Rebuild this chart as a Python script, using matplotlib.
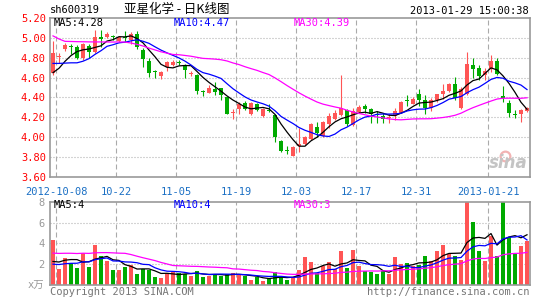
import matplotlib
matplotlib.use("Agg")
import matplotlib.pyplot as plt
import numpy as np
import pandas as pd

plt.rcParams['font.family'] = ['DejaVu Sans Mono', 'Noto Sans CJK SC']

# daily K data, 2012-09-28 .. 2013-01-29 (80 sessions)
opens = [4.65, 4.81, 4.89, 4.92, 4.91, 4.80, 4.92, 4.86, 5.01, 5.01,
         5.02, 4.97, 5.01, 4.98, 5.04, 4.88, 4.77, 4.67, 4.62, 4.71,
         4.73, 4.76, 4.73, 4.64, 4.63, 4.47, 4.45, 4.49, 4.50, 4.41,
         4.24, 4.28, 4.34, 4.23, 4.33, 4.21, 4.27, 4.22, 3.96, 3.87,
         3.81, 3.91, 3.93, 3.98, 4.10, 4.01, 4.13, 4.18, 4.22, 4.27,
         4.12, 4.25, 4.31, 4.28, 4.23, 4.21, 4.19, 4.21, 4.24, 4.37,
         4.33, 4.44, 4.37, 4.29, 4.37, 4.44, 4.47, 4.54, 4.29, 4.44,
         4.73, 4.70, 4.63, 4.69, 4.77, 4.42, 4.34, 4.23, 4.23, 4.26]
highs = [4.97, 4.85, 4.95, 4.94, 4.93, 4.95, 4.94, 5.08, 5.08, 5.06,
         5.03, 5.02, 5.07, 5.06, 5.07, 4.90, 4.80, 4.68, 4.67, 4.77,
         4.78, 4.78, 4.74, 4.67, 4.64, 4.48, 4.53, 4.56, 4.50, 4.41,
         4.28, 4.35, 4.36, 4.35, 4.34, 4.29, 4.33, 4.23, 3.97, 3.91,
         3.91, 4.09, 4.01, 4.14, 4.15, 4.16, 4.24, 4.27, 4.63, 4.28,
         4.29, 4.32, 4.33, 4.29, 4.26, 4.24, 4.23, 4.29, 4.36, 4.43,
         4.41, 4.49, 4.43, 4.39, 4.44, 4.54, 4.55, 4.61, 4.51, 4.86,
         4.80, 4.73, 4.70, 4.83, 4.80, 4.52, 4.37, 4.27, 4.28, 4.30]
lows = [4.63, 4.75, 4.87, 4.84, 4.79, 4.78, 4.80, 4.85, 4.91, 5.00,
        4.98, 4.96, 4.96, 4.94, 4.89, 4.71, 4.61, 4.60, 4.59, 4.67,
        4.72, 4.73, 4.60, 4.62, 4.44, 4.42, 4.45, 4.43, 4.37, 4.23,
        4.18, 4.23, 4.27, 4.22, 4.26, 4.20, 4.25, 3.95, 3.85, 3.83,
        3.81, 3.85, 3.92, 3.97, 4.00, 4.00, 4.09, 4.17, 4.21, 4.11,
        4.11, 4.24, 4.24, 4.14, 4.14, 4.14, 4.14, 4.17, 4.24, 4.31,
        4.33, 4.31, 4.23, 4.26, 4.35, 4.38, 4.46, 4.37, 4.28, 4.43,
        4.60, 4.58, 4.58, 4.66, 4.63, 4.35, 4.20, 4.19, 4.15, 4.25]
closes = [4.85, 4.82, 4.93, 4.91, 4.80, 4.94, 4.86, 5.01, 4.99, 5.04,
          5.01, 5.01, 5.00, 5.04, 4.91, 4.79, 4.65, 4.66, 4.66, 4.76,
          4.76, 4.75, 4.68, 4.65, 4.47, 4.46, 4.50, 4.46, 4.43, 4.23,
          4.25, 4.33, 4.28, 4.34, 4.27, 4.28, 4.26, 4.00, 3.86, 3.86,
          3.90, 3.93, 4.00, 4.13, 4.04, 4.15, 4.21, 4.24, 4.29, 4.13,
          4.26, 4.30, 4.28, 4.23, 4.22, 4.18, 4.20, 4.26, 4.35, 4.36,
          4.38, 4.37, 4.29, 4.37, 4.44, 4.47, 4.54, 4.39, 4.49, 4.74,
          4.69, 4.62, 4.67, 4.77, 4.64, 4.39, 4.24, 4.22, 4.27, 4.29]
# volume, x10^4 lots
volumes = [4.29, 1.55, 2.58, 2.10, 1.68, 3.06, 1.77, 3.81, 2.74, 2.35,
           1.45, 1.45, 1.77, 1.94, 1.06, 1.52, 1.45, 0.81, 0.71, 1.13,
           1.23, 1.13, 1.10, 0.90, 1.35, 0.81, 0.90, 1.10, 0.84, 1.06,
           1.16, 0.97, 0.87, 0.48, 0.74, 0.42, 0.58, 1.23, 0.81, 0.50,
           0.65, 1.45, 2.65, 2.23, 1.19, 1.84, 2.23, 1.55, 3.29, 1.68,
           3.39, 1.87, 1.35, 1.23, 1.10, 1.35, 1.10, 2.65, 2.00, 2.16,
           1.87, 1.94, 2.74, 2.32, 3.23, 3.87, 3.00, 2.81, 2.42, 8.30,
           6.03, 3.29, 2.35, 4.74, 2.74, 8.60, 4.65, 2.97, 3.71, 4.19]
# sessions before the window, only needed for the moving averages
prior_closes = [5.75, 5.65, 4.95, 4.85, 4.97, 4.90, 5.02, 5.00, 5.05, 5.02,
                5.00, 5.03, 5.32, 5.32, 5.28, 5.28, 5.22, 5.22, 5.17, 5.17,
                4.82, 4.90, 4.88, 4.80, 4.78, 4.60, 4.58, 4.62, 4.60]
prior_volumes = [2.3, 2.2, 2.1, 2.4, 2.2, 2.3, 2.1, 2.2, 2.3, 2.2,
                 2.3, 2.2, 5.5, 5.8, 6.0, 5.5, 5.0, 6.0, 5.5, 5.7,
                 1.9, 1.8, 1.7, 1.6, 1.7, 1.8, 1.7, 1.8, 1.7]

tick_index = [1, 11, 21, 31, 41, 51, 61, 73]
tick_labels = ['2012-10-08', '10-22', '11-05', '11-19', '12-03', '12-17',
               '12-31', '2013-01-21']
price_ticks = [3.60, 3.80, 4.00, 4.20, 4.40, 4.60, 4.80, 5.00, 5.20]
vol_ticks = [0, 2, 4, 6, 8]
vol_tick_labels = ['x万', '2', '4', '6', '8']
ma_periods = [5, 10, 30]
price_ma_labels = ['MA5:4.28', 'MA10:4.47', 'MA30:4.39']
vol_ma_labels = ['MA5:4', 'MA10:4', 'MA30:3']

RED, GREEN = '#ff5555', '#00aa00'
MA_COLORS = ['black', '#0000ff', '#ff00ff']
GRID = '#aaaaaa'
W, H = 545, 300

fig = plt.figure(figsize=(W / 100, H / 100), dpi=100)
fig.patch.set_facecolor('white')


def px_axes(x0, y0, x1, y1):
    return fig.add_axes([x0 / W, 1 - y1 / H, (x1 - x0) / W, (y1 - y0) / H])


def ftext(x, y, s, **kw):
    fig.text(x / W, 1 - y / H, s, **kw)


ax = px_axes(50, 18, 530, 177)
axv = px_axes(50, 201.7, 530, 285)

o = np.array(opens)
h = np.array(highs)
lo = np.array(lows)
c = np.array(closes)
v = np.array(volumes)
n = len(c)
x = np.arange(n)
colors = [RED if cc >= oo else GREEN for oo, cc in zip(o, c)]

full_c = pd.Series(prior_closes + closes)
full_v = pd.Series(prior_volumes + volumes)

# grid
vt = [i - 0.5 for i in tick_index]
for a in (ax, axv):
    for t in vt:
        a.axvline(t, color=GRID, lw=0.8, ls=(0, (4.5, 2.7)), zorder=0)
for p in price_ticks[1:-1]:
    ax.axhline(p, color=GRID, lw=0.8, ls=(0, (0.9, 1.8)), zorder=0)
for t in vol_ticks[1:-1]:
    axv.axhline(t, color=GRID, lw=0.8, ls=(0, (0.9, 1.8)), zorder=0)

# candles
body = np.maximum(np.abs(c - o), 0.007)
ax.vlines(x, lo, h, colors=colors, lw=0.8, zorder=2)
ax.bar(x, body, bottom=np.minimum(o, c), width=0.78, color=colors,
       linewidth=0, zorder=3)

# volume bars
axv.bar(x, v, width=0.82, color=colors, linewidth=0, zorder=2)

# moving averages
for per, col in zip(ma_periods, MA_COLORS):
    ax.plot(x, full_c.rolling(per).mean().values[-n:], color=col, lw=0.9, zorder=4)
    axv.plot(x, full_v.rolling(per).mean().values[-n:], color=col, lw=0.9, zorder=4)

ax.set_xlim(-0.5, n - 0.5)
axv.set_xlim(-0.5, n - 0.5)
ax.set_ylim(price_ticks[0], price_ticks[-1])
axv.set_ylim(vol_ticks[0], vol_ticks[-1])

ax.set_yticks(price_ticks)
ax.set_yticklabels(['%.2f' % p for p in price_ticks])
ax.tick_params(axis='y', length=0, pad=3, labelcolor='#ff0000', labelsize=7.5)
ax.set_xticks(vt)
ax.set_xticklabels(tick_labels)
ax.tick_params(axis='x', length=0, pad=7, labelcolor='#1a6fc4', labelsize=7.5)

axv.set_yticks(vol_ticks)
axv.set_yticklabels(vol_tick_labels)
axv.tick_params(axis='y', length=0, pad=4, labelcolor='#999999', labelsize=7.5)
axv.set_xticks(vt)
axv.set_xticklabels([])
axv.tick_params(axis='x', length=0)

for a in (ax, axv):
    for s in a.spines.values():
        s.set_color('#999999')
        s.set_linewidth(1.2)

# MA captions
for k, (lab, col) in enumerate(zip(price_ma_labels, MA_COLORS)):
    ftext(54 + 120 * k, 23.5, lab, color=col, fontsize=7.5, ha='left', va='center')
for k, (lab, col) in enumerate(zip(vol_ma_labels, MA_COLORS)):
    ftext(54 + 120 * k, 205.5, lab, color=col, fontsize=7.5, ha='left', va='center')

# header / footer
ftext(50, 10, 'sh600319', fontsize=7.5, ha='left', va='center')
ftext(177, 9.5, '亚星化学 - 日K线图', fontsize=9, ha='center', va='center',
      family=['Noto Sans CJK SC', 'DejaVu Sans'])
ftext(529, 11, '2013-01-29 15:00:38', fontsize=7.5, ha='right', va='center')
ftext(50, 292, 'Copyright 2013 SINA.COM', fontsize=7.5, color='#777777',
      ha='left', va='center')
ftext(529, 292, 'http://finance.sina.com.cn', fontsize=7.5, color='#777777',
      ha='right', va='center')

# watermark
ax.plot([0.948], [0.13], marker='o', ms=7, mfc='none', mec='#f2b3b3', mew=1.6,
        transform=ax.transAxes, zorder=1)
ax.text(0.996, 0.03, 'sina', transform=ax.transAxes, ha='right', va='bottom',
        color='#c4c4c4', fontsize=12, fontweight='bold', fontstyle='italic',
        family='DejaVu Sans', zorder=1)

fig.savefig('out.png', dpi=100)
